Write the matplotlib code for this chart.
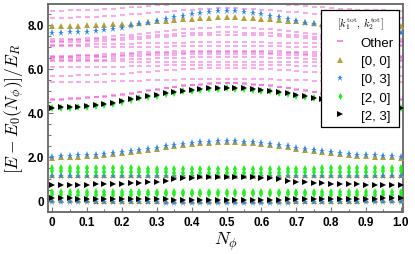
import numpy as np
import matplotlib
matplotlib.use("Agg")
import matplotlib.pyplot as plt
from matplotlib.ticker import MultipleLocator, FixedLocator, FixedFormatter

# flux values N_phi (41 steps), the spectrum is symmetric under N_phi -> 1 - N_phi,
# so each level is listed on the half 0 .. 0.5 (21 values) and mirrored
n_phi = np.linspace(0, 1, 41)

# [0, 0] sector
gold_levels = [
    [0.03, 0.03, 0.03, 0.03, 0.03, 0.02, 0.02, 0.02, 0.02, 0.01, 0.01, 0.01, 0.00, 0.00, 0.00, 0.00, 0.00, 0.00, 0.00, 0.00, 0.00],
    [1.20, 1.20, 1.20, 1.20, 1.19, 1.19, 1.19, 1.18, 1.18, 1.18, 1.17, 1.17, 1.17, 1.16, 1.16, 1.16, 1.16, 1.15, 1.15, 1.15, 1.15],
    [1.97, 1.98, 2.00, 2.02, 2.04, 2.06, 2.09, 2.12, 2.16, 2.21, 2.26, 2.32, 2.38, 2.44, 2.50, 2.55, 2.59, 2.62, 2.65, 2.67, 2.68],
    [7.96, 7.96, 7.97, 7.97, 7.98, 7.99, 8.00, 8.02, 8.04, 8.06, 8.09, 8.12, 8.16, 8.20, 8.23, 8.26, 8.29, 8.31, 8.33, 8.34, 8.35],
]
# [0, 3] sector
blue_levels = [
    [-0.04, -0.04, -0.04, -0.04, -0.05, -0.05, -0.05, -0.05, -0.06, -0.06, -0.06, -0.06, -0.06, -0.07, -0.07, -0.07, -0.07, -0.07, -0.07, -0.07, -0.07],
    [1.15, 1.15, 1.15, 1.15, 1.15, 1.14, 1.14, 1.14, 1.14, 1.13, 1.13, 1.13, 1.13, 1.12, 1.12, 1.12, 1.12, 1.12, 1.12, 1.12, 1.12],
    [2.02, 2.03, 2.05, 2.07, 2.09, 2.11, 2.14, 2.17, 2.21, 2.26, 2.31, 2.37, 2.43, 2.49, 2.55, 2.60, 2.64, 2.67, 2.70, 2.72, 2.73],
    [7.65, 7.65, 7.66, 7.67, 7.69, 7.72, 7.76, 7.81, 7.88, 7.95, 8.03, 8.10, 8.18, 8.26, 8.34, 8.42, 8.50, 8.56, 8.60, 8.63, 8.65],
]
# [2, 0] sector
green_levels = [
    [0.28, 0.28, 0.28, 0.28, 0.28, 0.29, 0.29, 0.29, 0.29, 0.29, 0.30, 0.30, 0.30, 0.30, 0.30, 0.30, 0.31, 0.31, 0.31, 0.31, 0.31],
    [0.39, 0.39, 0.39, 0.39, 0.40, 0.40, 0.40, 0.40, 0.41, 0.41, 0.41, 0.41, 0.42, 0.42, 0.42, 0.42, 0.43, 0.43, 0.43, 0.43, 0.43],
    [1.35, 1.35, 1.35, 1.34, 1.34, 1.34, 1.33, 1.33, 1.32, 1.32, 1.31, 1.31, 1.30, 1.30, 1.29, 1.29, 1.29, 1.28, 1.28, 1.28, 1.28],
    [1.51, 1.51, 1.51, 1.50, 1.50, 1.50, 1.49, 1.49, 1.48, 1.48, 1.47, 1.47, 1.46, 1.46, 1.45, 1.45, 1.45, 1.44, 1.44, 1.44, 1.44],
    [4.21, 4.22, 4.24, 4.26, 4.29, 4.33, 4.37, 4.42, 4.52, 4.59, 4.67, 4.73, 4.79, 4.86, 4.92, 4.98, 5.02, 5.06, 5.09, 5.11, 5.12],
]
# [2, 3] sector
black_levels = [
    [0.12, 0.12, 0.12, 0.11, 0.11, 0.11, 0.10, 0.10, 0.09, 0.09, 0.08, 0.08, 0.07, 0.07, 0.06, 0.06, 0.05, 0.05, 0.04, 0.04, 0.04],
    [0.73, 0.73, 0.73, 0.74, 0.74, 0.75, 0.76, 0.77, 0.78, 0.80, 0.82, 0.85, 0.88, 0.93, 0.98, 1.03, 1.06, 1.08, 1.09, 1.10, 1.10],
    [4.24, 4.25, 4.27, 4.29, 4.32, 4.36, 4.40, 4.45, 4.55, 4.62, 4.70, 4.76, 4.82, 4.89, 4.95, 5.01, 5.05, 5.09, 5.12, 5.14, 5.15],
]
# all other sectors
other_levels = [
    [8.65, 8.65, 8.66, 8.67, 8.68, 8.70, 8.72, 8.74, 8.77, 8.80, 8.83, 8.86, 8.89, 8.92, 8.94, 8.96, 8.98, 8.99, 9.00, 9.01, 9.01],
    [8.32, 8.32, 8.33, 8.34, 8.35, 8.37, 8.39, 8.42, 8.45, 8.48, 8.51, 8.54, 8.57, 8.60, 8.63, 8.66, 8.69, 8.72, 8.74, 8.76, 8.77],
    [7.36, 7.36, 7.37, 7.38, 7.40, 7.42, 7.45, 7.48, 7.52, 7.56, 7.60, 7.64, 7.68, 7.72, 7.76, 7.80, 7.83, 7.86, 7.88, 7.89, 7.90],
    [7.29, 7.29, 7.30, 7.31, 7.32, 7.34, 7.36, 7.38, 7.41, 7.44, 7.47, 7.50, 7.53, 7.56, 7.58, 7.61, 7.63, 7.64, 7.65, 7.66, 7.66],
    [7.22, 7.22, 7.23, 7.24, 7.25, 7.27, 7.29, 7.31, 7.33, 7.36, 7.38, 7.41, 7.43, 7.46, 7.48, 7.50, 7.52, 7.53, 7.54, 7.54, 7.54],
    [7.09, 7.09, 7.10, 7.10, 7.11, 7.12, 7.13, 7.14, 7.15, 7.15, 7.16, 7.17, 7.18, 7.19, 7.19, 7.20, 7.21, 7.21, 7.22, 7.22, 7.22],
    [7.05, 7.05, 7.04, 7.03, 7.02, 7.01, 7.00, 6.99, 6.98, 6.98, 6.98, 6.99, 7.00, 7.01, 7.02, 7.03, 7.04, 7.05, 7.06, 7.06, 7.06],
    [6.60, 6.60, 6.61, 6.62, 6.63, 6.65, 6.67, 6.69, 6.71, 6.73, 6.75, 6.77, 6.78, 6.79, 6.80, 6.81, 6.82, 6.82, 6.83, 6.83, 6.83],
    [6.55, 6.55, 6.56, 6.57, 6.58, 6.60, 6.61, 6.63, 6.65, 6.67, 6.69, 6.70, 6.71, 6.72, 6.73, 6.74, 6.75, 6.75, 6.76, 6.76, 6.76],
    [6.48, 6.48, 6.49, 6.50, 6.51, 6.52, 6.54, 6.55, 6.57, 6.58, 6.60, 6.62, 6.63, 6.64, 6.65, 6.66, 6.67, 6.68, 6.69, 6.70, 6.70],
    [6.39, 6.39, 6.39, 6.40, 6.40, 6.41, 6.42, 6.43, 6.44, 6.45, 6.46, 6.47, 6.48, 6.49, 6.50, 6.51, 6.52, 6.52, 6.53, 6.53, 6.53],
    [6.36, 6.36, 6.36, 6.35, 6.35, 6.35, 6.34, 6.34, 6.34, 6.33, 6.33, 6.33, 6.32, 6.32, 6.32, 6.31, 6.31, 6.30, 6.30, 6.30, 6.30],
    [6.07, 6.07, 6.07, 6.08, 6.08, 6.09, 6.10, 6.10, 6.11, 6.12, 6.13, 6.14, 6.15, 6.16, 6.17, 6.18, 6.18, 6.19, 6.19, 6.20, 6.20],
    [5.69, 5.69, 5.70, 5.71, 5.72, 5.73, 5.75, 5.77, 5.79, 5.82, 5.85, 5.88, 5.91, 5.94, 5.96, 5.98, 6.00, 6.02, 6.03, 6.04, 6.05],
    [5.39, 5.39, 5.39, 5.40, 5.40, 5.41, 5.42, 5.43, 5.44, 5.45, 5.47, 5.48, 5.49, 5.50, 5.51, 5.52, 5.53, 5.54, 5.54, 5.55, 5.55],
    [4.63, 4.64, 4.66, 4.68, 4.71, 4.74, 4.77, 4.81, 4.86, 4.91, 4.97, 5.03, 5.09, 5.15, 5.20, 5.25, 5.29, 5.32, 5.35, 5.37, 5.38],
    [4.60, 4.61, 4.63, 4.65, 4.68, 4.71, 4.74, 4.78, 4.83, 4.88, 4.94, 5.00, 5.06, 5.12, 5.17, 5.22, 5.26, 5.29, 5.32, 5.34, 5.35],
]

legend_labels = ["Other", "[0, 0]", "[0, 3]", "[2, 0]", "[2, 3]"]
legend_title = r"$[k_1^{\rm tot},\, k_2^{\rm tot}]$"
xtick_values = [0, 0.1, 0.2, 0.3, 0.4, 0.5, 0.6, 0.7, 0.8, 0.9, 1.0]
xtick_labels = ["0", "0.1", "0.2", "0.3", "0.4", "0.5", "0.6", "0.7", "0.8", "0.9", "1.0"]
ytick_values = [0, 2, 4, 6, 8]
ytick_labels = ["0", "2.0", "4.0", "6.0", "8.0"]


def mirror(half):
    # fill N_phi in (0.5, 1] from the symmetry of the spectrum
    half = list(half)
    return np.array(half + half[-2::-1])


plt.rcParams["font.family"] = ["Liberation Sans", "DejaVu Sans"]
plt.rcParams["mathtext.fontset"] = "cm"

fig = plt.figure(figsize=(4.15, 2.55), dpi=100)
ax = fig.add_axes([48 / 415, 1 - 213 / 255, 355 / 415, 208 / 255])

pink = (0.90, 0.22, 0.78)
for lev in other_levels:
    ax.plot(n_phi, mirror(lev), ls="none", marker="_", ms=3.6, mew=1.5,
            color=pink, alpha=0.4, zorder=2)
for lev in gold_levels:
    ax.plot(n_phi, mirror(lev), ls="none", marker="^", ms=4.2, mew=0,
            color="#b5a040", zorder=3)
for lev in blue_levels:
    ax.plot(n_phi, mirror(lev), ls="none", marker="*", ms=5.2, mew=0,
            color="#2e86e6", zorder=4)
for lev in green_levels:
    ax.plot(n_phi, mirror(lev), ls="none", marker="d", ms=3.8, mew=0,
            color="#22ee22", zorder=5)
for lev in black_levels:
    ax.plot(n_phi, mirror(lev), ls="none", marker=">", ms=4.0, mew=0,
            color="black", zorder=6)

ax.set_xlim(-0.012, 1.006)
ax.set_ylim(-0.5, 8.95)

ax.xaxis.set_major_locator(FixedLocator(xtick_values))
ax.xaxis.set_major_formatter(FixedFormatter(xtick_labels))
ax.yaxis.set_major_locator(FixedLocator(ytick_values))
ax.yaxis.set_major_formatter(FixedFormatter(ytick_labels))
ax.yaxis.set_minor_locator(MultipleLocator(0.5))
ax.xaxis.set_minor_locator(MultipleLocator(0.05))
ax.tick_params(which="both", direction="in", color="#777777", width=0.8)
ax.tick_params(which="major", length=3.5, pad=3, labelsize=8.5)
ax.tick_params(which="minor", length=2)
for lab in ax.get_xticklabels() + ax.get_yticklabels():
    lab.set_fontweight("bold")
for sp in ax.spines.values():
    sp.set_color("#666666")
    sp.set_linewidth(1.3)

ax.set_xlabel(r"$N_\phi$", fontsize=13, labelpad=1)
ax.set_ylabel(r"$[E - E_0(N_\phi)]/E_R$", fontsize=12.5, labelpad=0.5)

handles = [
    plt.Line2D([], [], ls="none", marker="_", ms=4, mew=1.3, color=pink, alpha=0.6),
    plt.Line2D([], [], ls="none", marker="^", ms=4, mew=0, color="#b5a040"),
    plt.Line2D([], [], ls="none", marker="*", ms=5, mew=0, color="#2e86e6"),
    plt.Line2D([], [], ls="none", marker="d", ms=3.5, mew=0, color="#22ee22"),
    plt.Line2D([], [], ls="none", marker=">", ms=3.8, mew=0, color="black"),
]
leg = ax.legend(handles, legend_labels, title=legend_title, loc="upper right",
                bbox_to_anchor=(0.989, 0.971), borderaxespad=0, fontsize=9.5,
                title_fontsize=7.5, fancybox=False, framealpha=1, edgecolor="black",
                handlelength=2.0, handletextpad=0.6, labelspacing=0.45,
                borderpad=0.4, markerfirst=True)
leg.get_frame().set_linewidth(0.9)
leg.set_zorder(10)

fig.savefig("out.png", dpi=100)
